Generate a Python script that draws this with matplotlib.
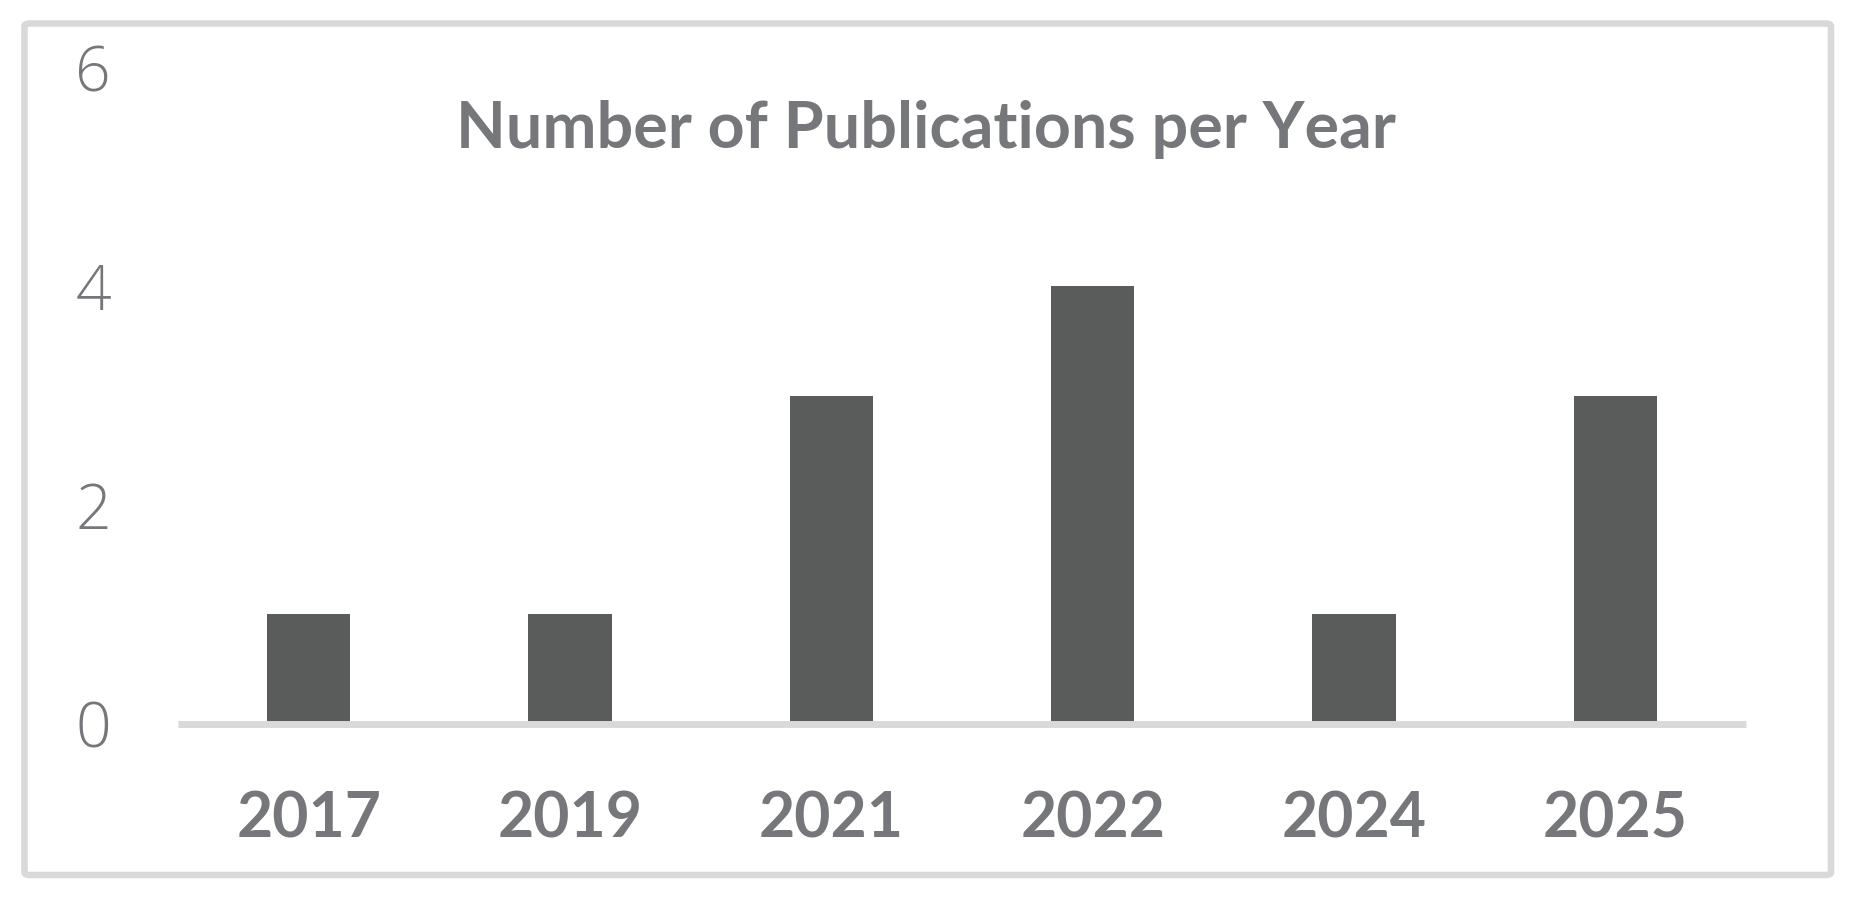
import matplotlib
matplotlib.use("Agg")
import matplotlib.pyplot as plt
from matplotlib.patches import FancyBboxPatch
from matplotlib import font_manager

years = ["2017", "2019", "2021", "2022", "2024", "2025"]
counts = [1, 1, 3, 4, 1, 3]
yticks = [0, 2, 4, 6]
title = "Number of Publications per Year"

TEXT = "#76777a"
BAR = "#5a5c5b"
LINE = "#d9d9d9"

W, H = 1852, 897
fig = plt.figure(figsize=(W / 100, H / 100), dpi=100)
fig.patch.set_facecolor("white")

x0, x1 = 178, 1746
y0, y6 = 723.5, 67.5
ax = fig.add_axes([x0 / W, (H - y0) / H, (x1 - x0) / W, (y0 - y6) / H])

xs = list(range(len(years)))
ax.bar(xs, counts, width=0.318, color=BAR, zorder=2)
ax.set_xlim(-0.5, len(years) - 0.5)
ax.set_ylim(0, 6)

for s in ["top", "right", "left"]:
    ax.spines[s].set_visible(False)
ax.spines["bottom"].set_color(LINE)
ax.spines["bottom"].set_linewidth(5.0)
ax.spines["bottom"].set_zorder(3)
ax.spines["bottom"].set_capstyle("butt")

ax.set_xticks(xs)
ax.set_xticklabels(years, fontfamily="Lato", fontweight="bold", fontsize=45, color=TEXT)
ax.set_yticks(yticks)
ax.set_yticklabels([str(v) for v in yticks], fontfamily="Open Sans", fontweight="light",
                   fontsize=45, color=TEXT)
ax.tick_params(axis="both", length=0)
ax.tick_params(axis="x", pad=113.5 * 0.72)
ax.tick_params(axis="y", pad=67 * 0.72)
for lab in ax.get_xticklabels():
    lab.set_va("baseline")

fig.text(0.5, (H - 148) / H, title, ha="center", va="baseline",
         fontfamily="Lato", fontweight="bold", fontsize=46.5, color=TEXT)

bx0, bx1, by0, by1 = 24.5, 1831, 23.5, 875
border = FancyBboxPatch((bx0 / W, (H - by1) / H), (bx1 - bx0) / W, (by1 - by0) / H,
                        boxstyle="round,pad=0,rounding_size=0.003",
                        transform=fig.transFigure, facecolor="none",
                        edgecolor=LINE, linewidth=4.7, zorder=0)
fig.patches.append(border)

fig.savefig("out.png", dpi=100, facecolor="white")
